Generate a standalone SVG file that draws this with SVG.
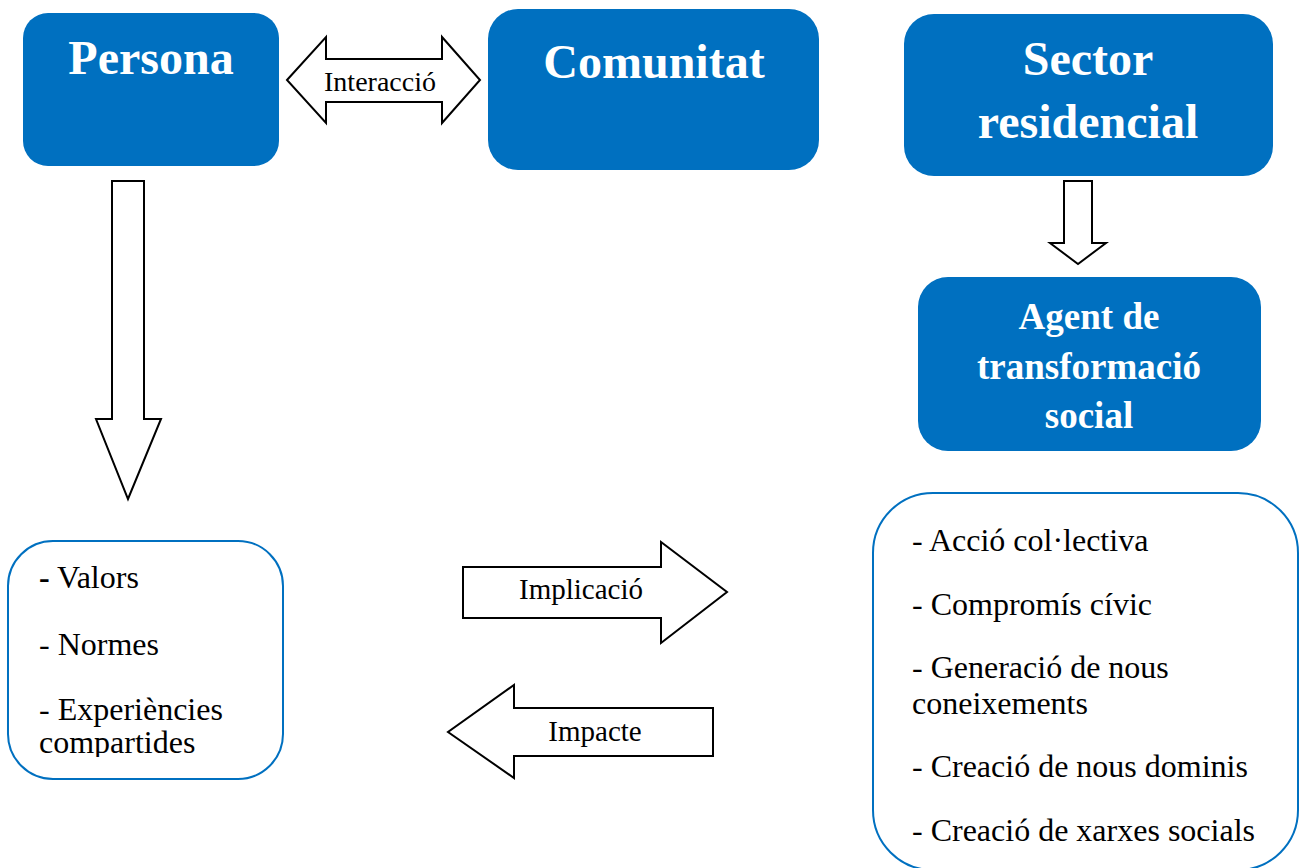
<svg xmlns="http://www.w3.org/2000/svg" width="1301" height="868" viewBox="0 0 1301 868">
<style>
.box{fill:#0070C0;}
.title{font-family:"Liberation Serif","Times New Roman",serif;font-weight:bold;fill:#ffffff;text-anchor:middle;}
.list{fill:#ffffff;stroke:#0070C0;stroke-width:2;}
.txt{font-family:"Liberation Serif","Times New Roman",serif;fill:#000000;}
.arrow{fill:#ffffff;stroke:#000000;stroke-width:2;stroke-linejoin:miter;}
</style>
<defs>
<clipPath id="clipLeft"><rect x="0" y="530" width="300" height="227"/></clipPath>
</defs>
<rect width="1301" height="868" fill="#ffffff"/>
<g id="connectors">
<polygon class="arrow" points="287,80 326,37 326,59 442,59 442,37 480,80 442,123 442,102 326,102 326,123"/>
<text class="txt" x="380" y="91" font-size="28" text-anchor="middle">Interacció</text>
<polygon class="arrow" points="112,181 144,181 144,419 161,419 128,499 96,419 112,419"/>
<polygon class="arrow" points="1064,181 1092,181 1092,243 1106,243 1078,264 1050,243 1064,243"/>
<polygon class="arrow" points="463,567 661,567 661,542 727,592 661,643 661,618 463,618"/>
<text class="txt" x="581" y="599" font-size="29" text-anchor="middle">Implicació</text>
<polygon class="arrow" points="713,708 514,708 514,685 448,732 514,778 514,756 713,756"/>
<text class="txt" x="595" y="741" font-size="29" text-anchor="middle">Impacte</text>
</g>
<g id="persona">
<rect class="box" x="23" y="13" width="256" height="153" rx="25"/>
<text class="title" x="151" y="74" font-size="48">Persona</text>
</g>
<g id="comunitat">
<rect class="box" x="488" y="9" width="331" height="161" rx="30"/>
<text class="title" x="654" y="78" font-size="48">Comunitat</text>
</g>
<g id="sector">
<rect class="box" x="904" y="14" width="369" height="162" rx="30"/>
<text class="title" x="1088" y="75" font-size="48">Sector</text>
<text class="title" x="1088" y="138" font-size="48">residencial</text>
</g>
<g id="agent">
<rect class="box" x="918" y="277" width="343" height="174" rx="30"/>
<text class="title" x="1089" y="329" font-size="37">Agent de</text>
<text class="title" x="1089" y="379" font-size="37">transformació</text>
<text class="title" x="1089" y="428" font-size="37">social</text>
</g>
<g id="valors">
<rect class="list" x="8" y="541" width="275" height="238" rx="45"/>
<g clip-path="url(#clipLeft)">
<text class="txt" x="39" y="588" font-size="32"><tspan font-weight="bold">-</tspan> Valors</text>
<text class="txt" x="39" y="655" font-size="32">- Normes</text>
<text class="txt" x="39" y="720" font-size="32">- Experiències</text>
<text class="txt" x="39" y="753" font-size="32">compartides</text>
</g>
</g>
<g id="accio">
<rect class="list" x="873" y="493" width="425" height="377" rx="60"/>
<text class="txt" x="912" y="551" font-size="32">- Acció col·lectiva</text>
<text class="txt" x="912" y="615" font-size="32">- Compromís cívic</text>
<text class="txt" x="912" y="678" font-size="32">- Generació de nous</text>
<text class="txt" x="912" y="714" font-size="32">coneixements</text>
<text class="txt" x="912" y="777" font-size="32">- Creació de nous dominis</text>
<text class="txt" x="912" y="841" font-size="32">- Creació de xarxes socials</text>
</g>
</svg>
